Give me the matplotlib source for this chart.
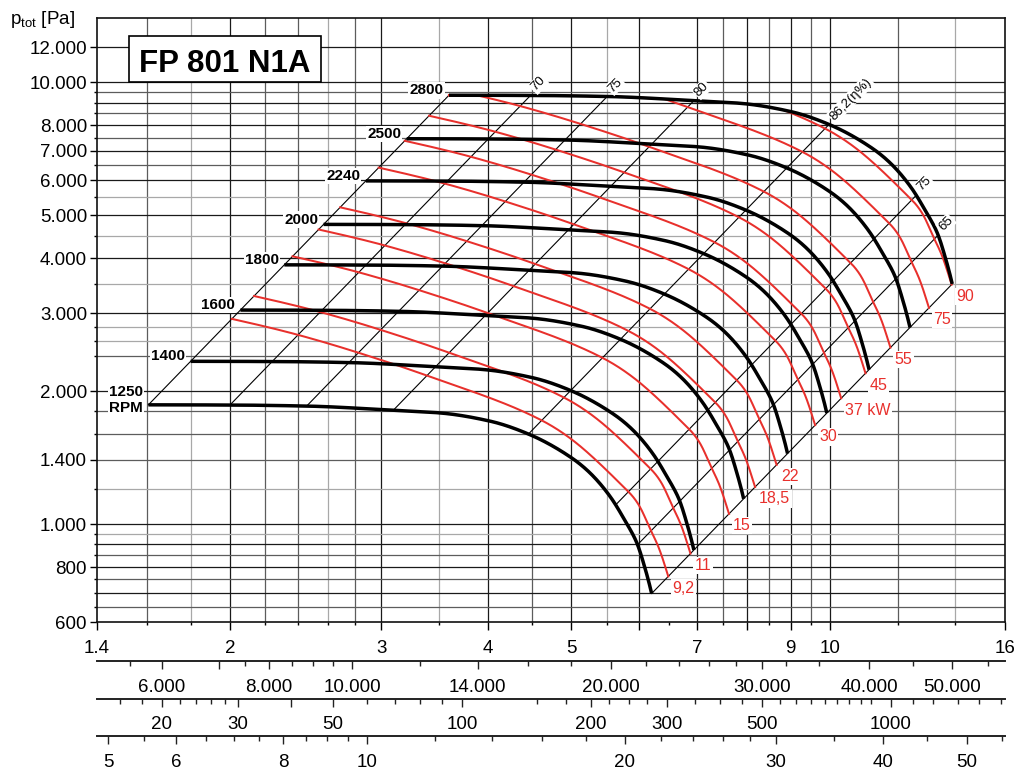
import numpy as np
import matplotlib
matplotlib.use('Agg')
import matplotlib.pyplot as plt
from matplotlib.ticker import FixedLocator, FixedFormatter, NullFormatter
from matplotlib.patches import Rectangle

plt.rcParams['font.family'] = ['Liberation Sans', 'DejaVu Sans']
plt.rcParams['mathtext.default'] = 'regular'

W, H = 1015, 769

# ---------------- data ----------------
rpm_list = [1250, 1400, 1600, 1800, 2000, 2240, 2500, 2800]
rpm_labels = ['1250\nRPM', '1400', '1600', '1800', '2000', '2240', '2500', '2800']
# fan curve at 1250 rpm: flow [m3/s], total pressure [Pa]
base_flow = [1.607, 2.0, 2.457, 3.10, 3.514, 4.02, 4.455, 5.005, 5.256, 5.547, 5.749, 5.959, 6.065, 6.2]
base_ptot = [1863, 1861, 1851, 1811, 1786, 1711, 1600, 1412, 1306, 1155, 1033, 907, 818, 697]
# efficiency along the 1250 rpm curve
eff_flow = [1.607, 2.0, 2.457, 3.10, 4.455, 5.63, 5.97, 6.2]
eff_pct = [63.7, 70, 75, 80, 86.2, 75, 65, 53.7]
eff_labels = ['', '70', '75', '80', '86,2(η%)', '75', '65', '']
# motor power lines
motor_kw = [9.2, 11, 15, 18.5, 22, 30, 37, 45, 55, 75, 90]
motor_labels = ['9,2', '11', '15', '18,5', '22', '30', '37 kW', '45', '55', '75', '90']

# axis ticks
x_major = [1.4, 2, 3, 4, 5, 6, 7, 8, 9, 10, 16]
x_major_lab = ['1.4', '2', '3', '4', '5', '', '7', '', '9', '10', '16']
x_minor = [1.6, 1.8, 2.2, 2.4, 2.6, 2.8, 3.5, 4.5, 5.5, 6.5, 7.5, 8.5, 9.5, 12, 14]
y_major = [600, 800, 1000, 1400, 2000, 3000, 4000, 5000, 6000, 7000, 8000, 10000, 12000]
y_major_lab = ['600', '800', '1.000', '1.400', '2.000', '3.000', '4.000', '5.000',
               '6.000', '7.000', '8.000', '10.000', '12.000']
y_minor = [650, 700, 750, 850, 900, 950, 1200, 1600, 1800, 2400, 2600, 2800, 3500,
           4500, 5500, 6500, 7500, 8500, 9000, 9500]

m3h_major = [6000, 7000, 8000, 10000, 14000, 20000, 30000, 40000, 50000]
m3h_lab = ['6.000', '', '8.000', '10.000', '14.000', '20.000', '30.000', '40.000', '50.000']
m3h_minor = [5500, 7500, 8500, 9000, 9500, 12000, 16000, 18000, 22000, 24000, 26000,
             28000, 32000, 35000, 45000, 55000]
pd_major = [20, 30, 40, 50, 100, 200, 300, 500, 1000]
pd_lab = ['20', '30', '', '50', '100', '200', '300', '500', '1000']
pd_minor = [16, 18, 22, 24, 26, 28, 60, 70, 80, 90, 150, 175, 220, 245, 270, 350, 400,
            450, 550, 600, 650, 700, 750, 800, 850, 900, 1125, 1250, 1430, 1600, 1800]
pd_factor = 7.2          # dynamic pressure = factor * flow^2
vel_major = [5, 6, 8, 10, 20, 30, 40, 50]
vel_lab = ['5', '6', '8', '10', '20', '30', '40', '50']
vel_minor = [5.5, 6.5, 7, 7.5, 8.5, 9, 9.5, 12, 14, 16, 18, 22, 24, 26, 28, 35, 45, 55]
outlet_area = 0.2886     # velocity = flow / area

RED = '#e8302c'


def pchip(x, y, xn):
    x = np.asarray(x, float); y = np.asarray(y, float); xn = np.asarray(xn, float)
    h = np.diff(x); d = np.diff(y) / h
    n = len(x)
    m = np.zeros(n)
    for k in range(1, n - 1):
        if d[k - 1] * d[k] <= 0:
            m[k] = 0.0
        else:
            w1 = 2 * h[k] + h[k - 1]; w2 = h[k] + 2 * h[k - 1]
            m[k] = (w1 + w2) / (w1 / d[k - 1] + w2 / d[k])

    def end(h0, h1, d0, d1):
        mm = ((2 * h0 + h1) * d0 - h0 * d1) / (h0 + h1)
        if np.sign(mm) != np.sign(d0):
            mm = 0.0
        elif np.sign(d0) != np.sign(d1) and abs(mm) > abs(3 * d0):
            mm = 3 * d0
        return mm
    m[0] = end(h[0], h[1], d[0], d[1])
    m[-1] = end(h[-1], h[-2], d[-1], d[-2])
    idx = np.clip(np.searchsorted(x, xn) - 1, 0, n - 2)
    t = (xn - x[idx]) / h[idx]
    h00 = 2 * t**3 - 3 * t**2 + 1
    h10 = t**3 - 2 * t**2 + t
    h01 = -2 * t**3 + 3 * t**2
    h11 = t**3 - t**2
    return h00 * y[idx] + h10 * h[idx] * m[idx] + h01 * y[idx + 1] + h11 * h[idx] * m[idx + 1]


# ---------------- figure ----------------
fig = plt.figure(figsize=(W / 100, H / 100), dpi=100)
L_PX, R_PX, T_PX, B_PX = 97, 1005, 17.7, 622.3
ax = fig.add_axes([L_PX / W, 1 - B_PX / H, (R_PX - L_PX) / W, (B_PX - T_PX) / H])
ax.set_xscale('log'); ax.set_yscale('log')
ax.set_xlim(1.4, 16); ax.set_ylim(600, 14000)

# grid
vgrid = {'#1a1a1a': [2, 3, 4, 5, 6, 7, 8, 9, 10],
         '#5c5c5c': [1.6, 2.2, 2.4, 2.8, 4.5, 7.5, 8.5, 9.5, 12],
         '#a8a8a8': [1.8, 2.6, 3.5, 5.5, 14]}
hgrid = {'#1a1a1a': [700, 800, 900, 1000, 2000, 3000, 4000, 5000, 6000, 7000, 8000, 9000, 10000, 12000],
         '#5c5c5c': [650, 750, 850, 1400, 1600, 1800, 2400, 6500, 7500, 8500, 9500],
         '#a8a8a8': [950, 1200, 2600, 2800, 3500, 4500, 5500]}
for c, vals in vgrid.items():
    for v in vals:
        ax.axvline(v, color=c, lw=0.9, zorder=0.5)
for c, vals in hgrid.items():
    for v in vals:
        ax.axhline(v, color=c, lw=0.9, zorder=0.5)

for s in ax.spines.values():
    s.set_linewidth(1.2); s.set_color('#111111'); s.set_zorder(6)

ax.xaxis.set_major_locator(FixedLocator(x_major))
ax.xaxis.set_major_formatter(FixedFormatter(x_major_lab))
ax.xaxis.set_minor_locator(FixedLocator(x_minor))
ax.xaxis.set_minor_formatter(NullFormatter())
ax.yaxis.set_major_locator(FixedLocator(y_major))
ax.yaxis.set_major_formatter(FixedFormatter(y_major_lab))
ax.yaxis.set_minor_locator(FixedLocator(y_minor))
ax.yaxis.set_minor_formatter(NullFormatter())
ax.tick_params(axis='both', which='both', direction='out', top=False, right=False, labelsize=13.5, width=1.0)
ax.tick_params(axis='x', which='major', length=6, pad=7)
ax.tick_params(axis='x', which='minor', length=2.5)
ax.tick_params(axis='y', which='major', length=5, pad=2.2)
ax.tick_params(axis='y', which='minor', length=2.2)

# ---- fan field ----
lv = np.log10(base_flow); lp = np.log10(base_ptot)
sx = 858.3 * lv; sy = 442.3 * lp
chord = np.concatenate([[0], np.cumsum(np.hypot(np.diff(sx), np.diff(sy)))])
tt = np.linspace(0, chord[-1], 1500)
Vd = 10 ** pchip(chord, lv, tt)
Pd = 10 ** pchip(chord, lp, tt)
Vd = np.clip(Vd, eff_flow[0], eff_flow[-1])
eta = pchip(eff_flow, eff_pct, Vd) / 100.0
P0 = Vd * Pd / eta / 1000.0  # shaft power at 1250 rpm [kW]

r_max = rpm_list[-1] / rpm_list[0]

# angle of fan-law lines on screen
fig.canvas.draw()
p1 = ax.transData.transform((2.0, 2000.0)); p2 = ax.transData.transform((4.0, 8000.0))
ang = np.degrees(np.arctan2(p2[1] - p1[1], p2[0] - p1[0]))
ca, sa = np.cos(np.radians(ang)), np.sin(np.radians(ang))
along, perp = 4.5, 1.6

# efficiency / boundary lines
for v, lab in zip(eff_flow, eff_labels):
    p = 10 ** np.interp(np.log10(v), np.log10(Vd), np.log10(Pd))
    ax.plot([v, v * r_max], [p, p * r_max**2], color='black', lw=0.8, zorder=2)
    if lab:
        ax.annotate(lab, xy=(v * r_max, p * r_max**2),
                    xytext=(along * ca - perp * sa, along * sa + perp * ca),
                    textcoords='offset points', rotation=ang, rotation_mode='anchor',
                    ha='left', va='center', fontsize=9.5, zorder=7,
                    bbox=dict(boxstyle='square,pad=0.08', fc='white', ec='none'))

# motor power lines
for kw, lab in zip(motor_kw, motor_labels):
    r = np.clip((kw / P0) ** (1 / 3), 1.0, r_max)
    ax.plot(Vd * r, Pd * r**2, color=RED, lw=1.45, zorder=3)
    ax.annotate(lab, xy=(Vd[-1] * r[-1], Pd[-1] * r[-1]**2), xytext=(3, -8.5),
                textcoords='offset points', ha='left', va='center', fontsize=11.5,
                color=RED, zorder=7,
                bbox=dict(boxstyle='square,pad=0.08', fc='white', ec='none'))

# rpm curves
for n, lab in zip(rpm_list, rpm_labels):
    r = n / rpm_list[0]
    ax.plot(Vd * r, Pd * r**2, color='black', lw=2.5, zorder=4, solid_capstyle='butt')
    ax.annotate(lab, xy=(base_flow[0] * r, base_ptot[0] * r**2), xytext=(-4, 3.5),
                textcoords='offset points', ha='right', va='center', fontsize=11,
                fontweight='bold', multialignment='right', linespacing=1.1, zorder=7,
                bbox=dict(boxstyle='square,pad=0.08', fc='white', ec='none'))

# ---- secondary scales ----
def sec_axis(y_line, lim, majors, labels, minors, pad):
    a = fig.add_axes([L_PX / W, 1 - (y_line + 12) / H, (R_PX - L_PX) / W, 12 / H])
    a.set_xscale('log'); a.set_xlim(*lim); a.set_ylim(0, 1)
    a.patch.set_visible(False)
    for s in ['left', 'right', 'bottom']:
        a.spines[s].set_visible(False)
    a.spines['top'].set_linewidth(1.4); a.spines['top'].set_color('#222222')
    a.yaxis.set_visible(False)
    a.xaxis.set_major_locator(FixedLocator(majors))
    a.xaxis.set_major_formatter(FixedFormatter(labels))
    a.xaxis.set_minor_locator(FixedLocator(minors))
    a.xaxis.set_minor_formatter(NullFormatter())
    a.tick_params(axis='x', which='both', top=True, bottom=False, labeltop=False,
                  labelbottom=True, direction='in', labelsize=13.5, width=1.0, color='#222222')
    a.tick_params(axis='x', which='major', length=6, pad=pad)
    a.tick_params(axis='x', which='minor', length=3.5)
    return a

sec_axis(661, (1.4 * 3600, 16 * 3600), m3h_major, m3h_lab, m3h_minor, 4)
sec_axis(698.7, (pd_factor * 1.4**2, pd_factor * 16**2), pd_major, pd_lab, pd_minor, 4)
sec_axis(736, (1.4 / outlet_area, 16 / outlet_area), vel_major, vel_lab, vel_minor, 4)

# ---- title box and axis label ----
fig.patches.append(Rectangle((129 / W, 1 - 81.7 / H), 191.7 / W, 45.7 / H,
                             transform=fig.transFigure, fc='white', ec='black', lw=1.2, zorder=10))
fig.text(224.8 / W, 1 - 71.7 / H, 'FP 801 N1A', ha='center', va='baseline',
         fontsize=22.5, fontweight='bold', zorder=11)
fig.text(10 / W, 1 - 24 / H, r'$\mathregular{p_{tot}}$ [Pa]', ha='left', va='baseline',
         fontsize=13.5)

fig.savefig('out.png', dpi=100)
